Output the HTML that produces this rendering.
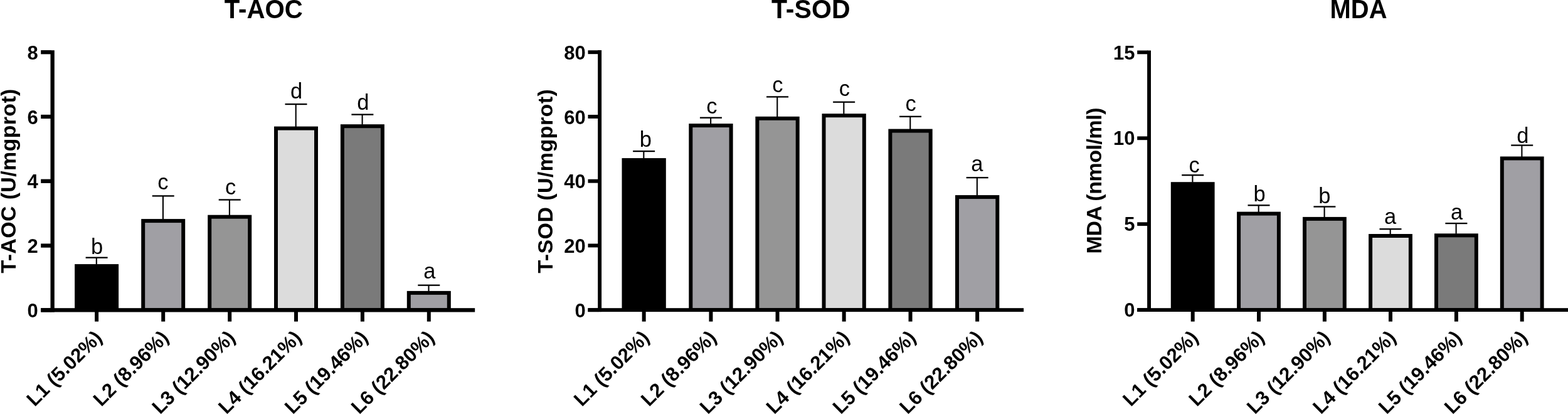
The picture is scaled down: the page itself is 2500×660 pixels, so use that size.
<!DOCTYPE html>
<html><head><meta charset="utf-8"><title>T-AOC, T-SOD, MDA</title>
<style>html,body{margin:0;padding:0;background:#fff;overflow:hidden}svg{display:block}text{font-family:"Liberation Sans", Arial, Helvetica, sans-serif}</style></head><body>
<svg width="2500" height="660" viewBox="0 0 2500 660">
<rect x="0" y="0" width="2500" height="660" fill="#fff"/>
<g>
<text x="420.3" y="29.4" font-size="42" font-weight="bold" text-anchor="middle" textLength="125" lengthAdjust="spacingAndGlyphs">T-AOC</text>
<text transform="translate(25 288.6) rotate(-90)" x="0" y="0" font-size="34" font-weight="bold" text-anchor="middle" textLength="294" lengthAdjust="spacing">T-AOC (U/mgprot)</text>
<rect x="119.1" y="421.1" width="70" height="71.1" fill="#000"/>
<rect x="152.75" y="410.7" width="2.1" height="10.9" fill="#000"/>
<rect x="136.6" y="409.55" width="35" height="2.3" fill="#000"/>
<text x="154.7" y="404.8" font-size="34.5" text-anchor="middle">b</text>
<rect x="151.1" y="496.5" width="6" height="16.1" fill="#000"/>
<text transform="translate(164.4 540.2) rotate(-45)" x="0" y="0" font-size="31.2" font-weight="bold" text-anchor="end">L1 (5.02%)</text>
<rect x="225.2" y="349.1" width="70" height="143.1" fill="#000"/>
<rect x="231.2" y="355.1" width="58" height="136.1" fill="#a09fa4"/>
<rect x="258.85" y="312.4" width="2.1" height="37.2" fill="#000"/>
<rect x="242.7" y="311.25" width="35" height="2.3" fill="#000"/>
<text x="259.8" y="302.4" font-size="34.5" text-anchor="middle">c</text>
<rect x="257.2" y="496.5" width="6" height="16.1" fill="#000"/>
<text transform="translate(270.5 540.2) rotate(-45)" x="0" y="0" font-size="31.2" font-weight="bold" text-anchor="end">L2 (8.96%)</text>
<rect x="331.2" y="342.7" width="70" height="149.5" fill="#000"/>
<rect x="337.2" y="348.7" width="58" height="142.5" fill="#959595"/>
<rect x="364.85" y="318.5" width="2.1" height="24.7" fill="#000"/>
<rect x="348.7" y="317.35" width="35" height="2.3" fill="#000"/>
<text x="367.6" y="309.5" font-size="34.5" text-anchor="middle">c</text>
<rect x="363.2" y="496.5" width="6" height="16.1" fill="#000"/>
<text transform="translate(376.5 540.2) rotate(-45)" x="0" y="0" font-size="31.2" font-weight="bold" text-anchor="end">L3 (12.90%)</text>
<rect x="437" y="201.6" width="70" height="290.6" fill="#000"/>
<rect x="443" y="207.6" width="58" height="283.6" fill="#dcdcdc"/>
<rect x="470.65" y="166.1" width="2.1" height="36" fill="#000"/>
<rect x="454.5" y="164.95" width="35" height="2.3" fill="#000"/>
<text x="472.6" y="157.1" font-size="34.5" text-anchor="middle">d</text>
<rect x="469" y="496.5" width="6" height="16.1" fill="#000"/>
<text transform="translate(482.3 540.2) rotate(-45)" x="0" y="0" font-size="31.2" font-weight="bold" text-anchor="end">L4 (16.21%)</text>
<rect x="542.9" y="198.2" width="70" height="294" fill="#000"/>
<rect x="548.9" y="204.2" width="58" height="287" fill="#7a7a7a"/>
<rect x="576.55" y="182.6" width="2.1" height="16.1" fill="#000"/>
<rect x="560.4" y="181.45" width="35" height="2.3" fill="#000"/>
<text x="578.8" y="175" font-size="34.5" text-anchor="middle">d</text>
<rect x="574.9" y="496.5" width="6" height="16.1" fill="#000"/>
<text transform="translate(588.2 540.2) rotate(-45)" x="0" y="0" font-size="31.2" font-weight="bold" text-anchor="end">L5 (19.46%)</text>
<rect x="648.8" y="463.9" width="70" height="28.3" fill="#000"/>
<rect x="654.8" y="469.9" width="58" height="21.3" fill="#a09fa4"/>
<rect x="682.45" y="454.7" width="2.1" height="9.7" fill="#000"/>
<rect x="666.3" y="453.55" width="35" height="2.3" fill="#000"/>
<text x="684.9" y="443.9" font-size="34.5" text-anchor="middle">a</text>
<rect x="680.8" y="496.5" width="6" height="16.1" fill="#000"/>
<text transform="translate(694.1 540.2) rotate(-45)" x="0" y="0" font-size="31.2" font-weight="bold" text-anchor="end">L6 (22.80%)</text>
<rect x="80.5" y="80.2" width="6.3" height="417.3" fill="#000"/>
<rect x="65.2" y="491.2" width="692" height="6.3" fill="#000"/>
<rect x="65.2" y="491.2" width="16.3" height="6.3" fill="#000"/>
<text x="60.8" y="506.05" font-size="31" font-weight="bold" text-anchor="end">0</text>
<rect x="65.2" y="388.41" width="16.3" height="6.3" fill="#000"/>
<text x="60.8" y="403.26" font-size="31" font-weight="bold" text-anchor="end">2</text>
<rect x="65.2" y="285.62" width="16.3" height="6.3" fill="#000"/>
<text x="60.8" y="300.47" font-size="31" font-weight="bold" text-anchor="end">4</text>
<rect x="65.2" y="182.84" width="16.3" height="6.3" fill="#000"/>
<text x="60.8" y="197.69" font-size="31" font-weight="bold" text-anchor="end">6</text>
<rect x="65.2" y="80.05" width="16.3" height="6.3" fill="#000"/>
<text x="60.8" y="94.9" font-size="31" font-weight="bold" text-anchor="end">8</text>
</g>
<g>
<text x="1292.8" y="29.4" font-size="42" font-weight="bold" text-anchor="middle" textLength="125.5" lengthAdjust="spacingAndGlyphs">T-SOD</text>
<text transform="translate(881.1 288.9) rotate(-90)" x="0" y="0" font-size="34" font-weight="bold" text-anchor="middle" textLength="293.4" lengthAdjust="spacing">T-SOD (U/mgprot)</text>
<rect x="991.5" y="252.1" width="70.3" height="240.1" fill="#000"/>
<rect x="1025.3" y="241.1" width="2.1" height="11.5" fill="#000"/>
<rect x="1009.15" y="239.95" width="35" height="2.3" fill="#000"/>
<text x="1029.25" y="234.3" font-size="34.5" text-anchor="middle">b</text>
<rect x="1023.65" y="496.1" width="6" height="16.5" fill="#000"/>
<text transform="translate(1036.95 540.2) rotate(-45)" x="0" y="0" font-size="31.2" font-weight="bold" text-anchor="end">L1 (5.02%)</text>
<rect x="1098.3" y="197.1" width="70.3" height="295.1" fill="#000"/>
<rect x="1104.3" y="203.1" width="58.3" height="288.1" fill="#a09fa4"/>
<rect x="1132.1" y="187.7" width="2.1" height="9.9" fill="#000"/>
<rect x="1115.95" y="186.55" width="35" height="2.3" fill="#000"/>
<text x="1134.85" y="181" font-size="34.5" text-anchor="middle">c</text>
<rect x="1130.45" y="496.1" width="6" height="16.5" fill="#000"/>
<text transform="translate(1143.75 540.2) rotate(-45)" x="0" y="0" font-size="31.2" font-weight="bold" text-anchor="end">L2 (8.96%)</text>
<rect x="1204.4" y="185.8" width="70.3" height="306.4" fill="#000"/>
<rect x="1210.4" y="191.8" width="58.3" height="299.4" fill="#959595"/>
<rect x="1238.2" y="154.4" width="2.1" height="31.9" fill="#000"/>
<rect x="1222.05" y="153.25" width="35" height="2.3" fill="#000"/>
<text x="1239.85" y="146.9" font-size="34.5" text-anchor="middle">c</text>
<rect x="1236.55" y="496.1" width="6" height="16.5" fill="#000"/>
<text transform="translate(1249.85 540.2) rotate(-45)" x="0" y="0" font-size="31.2" font-weight="bold" text-anchor="end">L3 (12.90%)</text>
<rect x="1310.5" y="181.2" width="70.3" height="311" fill="#000"/>
<rect x="1316.5" y="187.2" width="58.3" height="304" fill="#dcdcdc"/>
<rect x="1344.3" y="162.7" width="2.1" height="19" fill="#000"/>
<rect x="1328.15" y="161.55" width="35" height="2.3" fill="#000"/>
<text x="1346.25" y="153" font-size="34.5" text-anchor="middle">c</text>
<rect x="1342.65" y="496.1" width="6" height="16.5" fill="#000"/>
<text transform="translate(1355.95 540.2) rotate(-45)" x="0" y="0" font-size="31.2" font-weight="bold" text-anchor="end">L4 (16.21%)</text>
<rect x="1416.4" y="205.6" width="70.3" height="286.6" fill="#000"/>
<rect x="1422.4" y="211.6" width="58.3" height="279.6" fill="#7a7a7a"/>
<rect x="1450.2" y="185.8" width="2.1" height="20.3" fill="#000"/>
<rect x="1434.05" y="184.65" width="35" height="2.3" fill="#000"/>
<text x="1452.15" y="176.9" font-size="34.5" text-anchor="middle">c</text>
<rect x="1448.55" y="496.1" width="6" height="16.5" fill="#000"/>
<text transform="translate(1461.85 540.2) rotate(-45)" x="0" y="0" font-size="31.2" font-weight="bold" text-anchor="end">L5 (19.46%)</text>
<rect x="1523" y="311.1" width="70.3" height="181.1" fill="#000"/>
<rect x="1529" y="317.1" width="58.3" height="174.1" fill="#a09fa4"/>
<rect x="1556.8" y="283.2" width="2.1" height="28.4" fill="#000"/>
<rect x="1540.65" y="282.05" width="35" height="2.3" fill="#000"/>
<text x="1557.75" y="273.4" font-size="34.5" text-anchor="middle">a</text>
<rect x="1555.15" y="496.1" width="6" height="16.5" fill="#000"/>
<text transform="translate(1568.45 540.2) rotate(-45)" x="0" y="0" font-size="31.2" font-weight="bold" text-anchor="end">L6 (22.80%)</text>
<rect x="953.2" y="80" width="5.9" height="417.1" fill="#000"/>
<rect x="937.5" y="491.2" width="694.6" height="5.9" fill="#000"/>
<rect x="937.5" y="491.25" width="16.7" height="5.9" fill="#000"/>
<text x="933.7" y="505.8" font-size="31" font-weight="bold" text-anchor="end">0</text>
<rect x="937.5" y="388.5" width="16.7" height="5.9" fill="#000"/>
<text x="933.7" y="403.05" font-size="31" font-weight="bold" text-anchor="end">20</text>
<rect x="937.5" y="285.75" width="16.7" height="5.9" fill="#000"/>
<text x="933.7" y="300.3" font-size="31" font-weight="bold" text-anchor="end">40</text>
<rect x="937.5" y="183" width="16.7" height="5.9" fill="#000"/>
<text x="933.7" y="197.55" font-size="31" font-weight="bold" text-anchor="end">60</text>
<rect x="937.5" y="80.25" width="16.7" height="5.9" fill="#000"/>
<text x="933.7" y="94.8" font-size="31" font-weight="bold" text-anchor="end">80</text>
</g>
<g>
<text x="2166" y="29.4" font-size="42" font-weight="bold" text-anchor="middle" textLength="91" lengthAdjust="spacingAndGlyphs">MDA</text>
<text transform="translate(1755.8 287.95) rotate(-90)" x="0" y="0" font-size="34" font-weight="bold" text-anchor="middle" textLength="233" lengthAdjust="spacing">MDA (nmol/ml)</text>
<rect x="1866.8" y="290.2" width="69.8" height="202" fill="#000"/>
<rect x="1900.35" y="279.2" width="2.1" height="11.5" fill="#000"/>
<rect x="1884.2" y="278.05" width="35" height="2.3" fill="#000"/>
<text x="1904" y="275.4" font-size="34.5" text-anchor="middle">c</text>
<rect x="1898.7" y="496" width="6" height="16.6" fill="#000"/>
<text transform="translate(1912 540.2) rotate(-45)" x="0" y="0" font-size="31.2" font-weight="bold" text-anchor="end">L1 (5.02%)</text>
<rect x="1972.1" y="337.6" width="69.8" height="154.6" fill="#000"/>
<rect x="1978.1" y="343.6" width="57.8" height="147.6" fill="#a09fa4"/>
<rect x="2005.65" y="327.3" width="2.1" height="10.8" fill="#000"/>
<rect x="1989.5" y="326.15" width="35" height="2.3" fill="#000"/>
<text x="2008.1" y="321" font-size="34.5" text-anchor="middle">b</text>
<rect x="2004" y="496" width="6" height="16.6" fill="#000"/>
<text transform="translate(2017.3 540.2) rotate(-45)" x="0" y="0" font-size="31.2" font-weight="bold" text-anchor="end">L2 (8.96%)</text>
<rect x="2077" y="345.9" width="69.8" height="146.3" fill="#000"/>
<rect x="2083" y="351.9" width="57.8" height="139.3" fill="#959595"/>
<rect x="2110.55" y="329.5" width="2.1" height="16.9" fill="#000"/>
<rect x="2094.4" y="328.35" width="35" height="2.3" fill="#000"/>
<text x="2111.8" y="324" font-size="34.5" text-anchor="middle">b</text>
<rect x="2108.9" y="496" width="6" height="16.6" fill="#000"/>
<text transform="translate(2122.2 540.2) rotate(-45)" x="0" y="0" font-size="31.2" font-weight="bold" text-anchor="end">L3 (12.90%)</text>
<rect x="2182.1" y="373" width="69.8" height="119.2" fill="#000"/>
<rect x="2188.1" y="379" width="57.8" height="112.2" fill="#dcdcdc"/>
<rect x="2215.65" y="365.2" width="2.1" height="8.3" fill="#000"/>
<rect x="2199.5" y="364.05" width="35" height="2.3" fill="#000"/>
<text x="2216.6" y="356.6" font-size="34.5" text-anchor="middle">a</text>
<rect x="2214" y="496" width="6" height="16.6" fill="#000"/>
<text transform="translate(2227.3 540.2) rotate(-45)" x="0" y="0" font-size="31.2" font-weight="bold" text-anchor="end">L4 (16.21%)</text>
<rect x="2287" y="372.3" width="69.8" height="119.9" fill="#000"/>
<rect x="2293" y="378.3" width="57.8" height="112.9" fill="#7a7a7a"/>
<rect x="2320.55" y="356.1" width="2.1" height="16.7" fill="#000"/>
<rect x="2304.4" y="354.95" width="35" height="2.3" fill="#000"/>
<text x="2322.5" y="350.1" font-size="34.5" text-anchor="middle">a</text>
<rect x="2318.9" y="496" width="6" height="16.6" fill="#000"/>
<text transform="translate(2332.2 540.2) rotate(-45)" x="0" y="0" font-size="31.2" font-weight="bold" text-anchor="end">L5 (19.46%)</text>
<rect x="2391.8" y="249.5" width="69.8" height="242.7" fill="#000"/>
<rect x="2397.8" y="255.5" width="57.8" height="235.7" fill="#a09fa4"/>
<rect x="2425.35" y="231.6" width="2.1" height="18.4" fill="#000"/>
<rect x="2409.2" y="230.45" width="35" height="2.3" fill="#000"/>
<text x="2427.8" y="227.8" font-size="34.5" text-anchor="middle">d</text>
<rect x="2423.7" y="496" width="6" height="16.6" fill="#000"/>
<text transform="translate(2437 540.2) rotate(-45)" x="0" y="0" font-size="31.2" font-weight="bold" text-anchor="end">L6 (22.80%)</text>
<rect x="1829.1" y="80.5" width="5.9" height="416.5" fill="#000"/>
<rect x="1813.2" y="491.2" width="686.8" height="5.8" fill="#000"/>
<rect x="1813.2" y="491.2" width="16.9" height="5.8" fill="#000"/>
<text x="1809.6" y="505.2" font-size="31" font-weight="bold" text-anchor="end">0</text>
<rect x="1813.2" y="354.3" width="16.9" height="5.8" fill="#000"/>
<text x="1809.6" y="368.3" font-size="31" font-weight="bold" text-anchor="end">5</text>
<rect x="1813.2" y="217.4" width="16.9" height="5.8" fill="#000"/>
<text x="1809.6" y="231.4" font-size="31" font-weight="bold" text-anchor="end">10</text>
<rect x="1813.2" y="80.5" width="16.9" height="5.8" fill="#000"/>
<text x="1809.6" y="94.5" font-size="31" font-weight="bold" text-anchor="end">15</text>
</g>
</svg></body></html>
